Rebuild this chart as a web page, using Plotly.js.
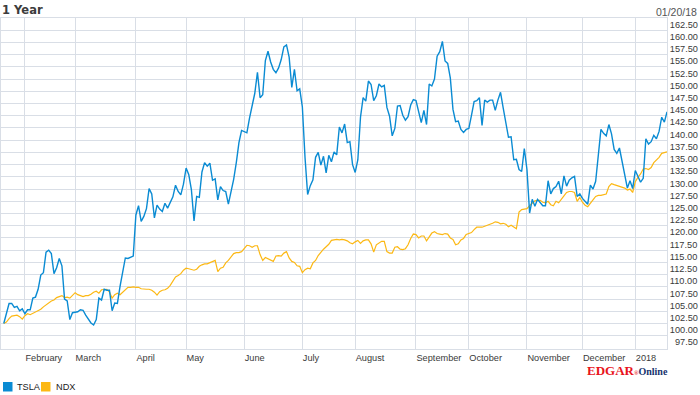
<!DOCTYPE html>
<html>
<head>
<meta charset="utf-8">
<script src="https://cdn.plot.ly/plotly-3.0.1.min.js"></script>
<style>html,body{margin:0;padding:0;background:#fff;}#chart{width:700px;height:395px;}</style>
</head>
<body>
<div id="chart"></div>
<script>
// Trading-day index 0 = 01/20/2017 ... 251 = 01/19/2018 (values rebased to 100)
const tsla = [
100.0,101.8,104.1,104.1,103.3,103.5,102.6,103.0,102.0,102.8,
102.8,105.2,105.4,107.0,109.9,110.4,114.6,115.0,114.3,110.2,
111.4,113.3,111.8,105.0,104.6,100.8,102.2,102.3,102.4,102.8,
102.7,101.7,100.9,100.1,99.7,100.8,105.2,104.8,107.0,106.8,
106.8,102.6,104.2,104.1,107.6,110.4,113.4,113.3,113.6,113.8,
122.2,124.1,120.9,121.9,123.5,127.6,126.5,121.6,124.2,123.4,
122.9,124.6,123.6,124.9,125.9,128.3,127.0,126.3,128.5,131.8,
130.5,127.4,121.0,126.0,125.8,131.0,132.9,132.2,132.8,129.3,
129.6,125.3,128.0,127.2,127.0,124.4,126.9,129.5,132.9,137.0,
139.5,139.2,139.0,142.0,144.4,147.1,151.4,146.2,146.8,153.8,
155.7,153.5,152.0,151.3,152.3,154.0,156.6,157.0,154.5,148.3,
152.0,147.6,148.0,144.3,134.0,126.4,128.2,129.4,134.0,135.0,
132.4,134.2,130.8,134.4,133.1,135.1,134.5,140.2,139.0,140.8,
137.0,137.2,132.5,130.9,133.5,142.2,146.2,145.5,149.6,148.9,
145.6,146.6,149.0,148.4,148.7,144.2,142.4,138.4,139.9,144.5,
144.6,142.6,141.6,142.3,144.7,145.8,145.6,143.2,141.1,143.6,
140.7,149.0,148.6,150.0,154.7,155.6,157.7,153.7,153.2,150.2,
143.8,141.3,141.4,139.7,139.1,139.7,139.9,142.6,145.4,145.6,
146.2,140.5,145.7,145.3,145.7,145.7,143.6,145.7,147.3,144.1,
141.4,138.1,138.2,133.5,133.6,131.5,131.1,135.8,131.5,122.6,
125.4,124.0,125.4,124.7,124.1,124.1,129.2,126.5,127.6,128.0,
129.1,126.5,130.2,128.1,129.3,129.8,130.1,126.0,126.5,125.6,
125.0,124.4,128.3,127.5,129.1,134.8,139.7,138.9,138.4,140.7,
138.8,135.6,134.8,135.9,133.2,130.0,127.7,129.2,127.6,131.3,
130.0,128.9,129.7,137.8,136.7,137.2,138.5,137.8,139.3,142.2,
141.2,143.3
];
const ndx = [
100.0,100.3,101.0,101.5,101.6,101.7,101.4,100.9,101.6,102.0,
101.8,102.1,102.4,102.6,102.9,103.4,103.8,104.3,104.6,104.8,
105.3,105.5,105.7,105.3,105.4,105.2,105.8,106.3,105.9,105.7,
105.5,105.7,105.7,106.0,106.4,106.6,106.2,106.9,106.9,107.0,
106.4,105.2,105.9,106.2,105.9,106.4,106.9,107.4,107.4,107.5,
107.4,107.4,107.1,107.0,107.0,107.0,106.8,106.4,105.8,106.5,
106.8,106.9,107.2,107.8,108.7,109.5,109.8,110.2,110.9,111.3,
111.2,111.0,110.9,111.1,111.7,112.0,112.2,112.2,112.4,112.6,
112.9,110.6,111.3,111.5,112.4,112.9,113.5,114.3,114.5,114.5,
114.7,115.4,116.0,115.9,115.6,115.9,115.9,114.1,112.9,113.5,
113.2,112.9,112.7,113.8,113.9,113.8,114.4,114.7,113.4,112.7,
112.5,111.8,111.7,110.4,111.0,111.3,111.2,112.4,112.9,113.9,
114.6,115.2,115.7,116.2,117.0,117.1,117.2,117.1,117.2,117.1,
116.9,116.5,116.3,116.7,117.0,116.4,116.9,117.1,117.1,116.3,
114.6,116.1,116.4,116.8,116.8,114.7,114.4,114.4,115.6,115.7,
115.2,115.1,115.3,116.1,117.4,118.3,118.2,117.5,117.9,117.9,
116.9,117.7,118.5,118.8,118.4,118.3,118.2,118.4,118.3,117.5,
117.2,116.1,116.3,117.1,117.4,118.2,118.4,118.6,119.2,119.7,
119.7,119.7,119.9,120.1,120.2,120.5,120.8,120.7,120.4,120.5,
120.3,119.8,120.1,119.8,119.4,122.8,123.3,123.4,123.5,124.1,
124.6,125.1,125.2,125.2,124.8,124.7,125.0,124.3,124.1,125.0,
124.7,125.3,126.1,126.8,127.0,127.0,126.8,125.0,125.8,124.8,
124.2,123.9,124.5,125.3,126.0,126.2,126.2,126.4,126.5,128.0,
128.6,128.4,128.2,128.0,127.9,127.7,127.3,127.5,126.8,129.0,
129.9,130.6,131.6,131.7,131.5,131.9,132.9,133.4,134.0,134.8,
135.0,135.1
];
const monthTickIdx = [8, 27, 50, 69, 91, 113, 133, 156, 176, 198, 219, 239];
const monthLabels = ["February","March","April","May","June","July","August","September","October","November","December","2018"];
const yTickVals = [97.5,100,102.5,105,107.5,110,112.5,115,117.5,120,122.5,125,127.5,130,132.5,135,137.5,140,142.5,145,147.5,150,152.5,155,157.5,160,162.5];
const seriesNames = ["TSLA", "NDX"];
const dateLabel = "01/20/18";
const chartTitle = "1 Year";

const xIdx = tsla.map((_, i) => i);
const yTickText = yTickVals.map(v => { const s = v.toFixed(2); return s.length < 6 ? "\u2007" + s : s; });

const BLUE = "#0a8bd3", GOLD = "#fcb814", GRID = "#d9dee6";
const tickFont = {family: "Liberation Sans, Arial, sans-serif", size: 9.2, color: "#3a3a3a"};

const traces = [
  {x: xIdx, y: ndx, type: "scatter", mode: "lines", name: seriesNames[1],
   line: {color: GOLD, width: 1.2}, hoverinfo: "skip"},
  {x: xIdx, y: tsla, type: "scatter", mode: "lines", name: seriesNames[0],
   line: {color: BLUE, width: 1.4}, hoverinfo: "skip"}
];

const pxX = p => (p - 1) / 666;      // page px -> paper x
const pxY = p => (349 - p) / 331;    // page px -> paper y

const layout = {
  width: 700, height: 395,
  margin: {l: 1, r: 33, t: 18, b: 46, pad: 0},
  paper_bgcolor: "#ffffff", plot_bgcolor: "#ffffff",
  showlegend: false, hovermode: false,
  title: {text: "<b>" + chartTitle + "</b>", x: 0.003, xref: "container", xanchor: "left",
          y: 0.974, yref: "container", yanchor: "middle",
          font: {family: "DejaVu Sans, sans-serif", size: 11.5, color: "#3c3c3c"}},
  xaxis: {range: [-1.05, 251.0], tickmode: "array", tickvals: monthTickIdx, ticktext: monthLabels,
          tickangle: 0, automargin: false,
          showgrid: true, gridcolor: GRID, gridwidth: 1, zeroline: false,
          showline: true, linecolor: GRID, linewidth: 1, mirror: true,
          ticks: "", ticklabelposition: "outside right", tickfont: tickFont, fixedrange: true},
  yaxis: {range: [94.78, 162.5], side: "right", tickmode: "array", tickvals: yTickVals, ticktext: yTickText,
          automargin: false,
          showgrid: true, gridcolor: GRID, gridwidth: 1, zeroline: false,
          showline: true, linecolor: GRID, linewidth: 1, mirror: true,
          ticks: "", ticklabelposition: "outside bottom", tickfont: tickFont, fixedrange: true},
  shapes: [
    {type: "rect", xref: "paper", yref: "paper", x0: pxX(3), x1: pxX(12.5), y0: pxY(391.5), y1: pxY(382), fillcolor: BLUE, line: {width: 0}},
    {type: "rect", xref: "paper", yref: "paper", x0: pxX(41), x1: pxX(50.5), y0: pxY(391.5), y1: pxY(382), fillcolor: GOLD, line: {width: 0}}
  ],
  annotations: [
    {xref: "paper", yref: "paper", x: pxX(15), y: pxY(386.8), xanchor: "left", yanchor: "middle", showarrow: false,
     text: seriesNames[0], font: {family: "Liberation Sans, Arial, sans-serif", size: 9.2, color: "#222"}},
    {xref: "paper", yref: "paper", x: pxX(54), y: pxY(386.8), xanchor: "left", yanchor: "middle", showarrow: false,
     text: seriesNames[1], font: {family: "Liberation Sans, Arial, sans-serif", size: 9.2, color: "#222"}},
    {xref: "paper", yref: "paper", x: pxX(698.5), y: pxY(11.5), xanchor: "right", yanchor: "middle", showarrow: false,
     text: dateLabel, font: {family: "Liberation Sans, Arial, sans-serif", size: 10.5, color: "#555"}},
    {xref: "paper", yref: "paper", x: pxX(585), y: pxY(370.5), xanchor: "left", yanchor: "middle", showarrow: false,
     text: '<b><span style="color:#e8141b;font-size:13px">EDGAR</span><span style="color:#e8141b;font-size:6px">®</span><span style="color:#17336e;font-size:10px">Online</span></b>',
     font: {family: "Liberation Serif, serif", size: 12, color: "#e8141b"}}
  ]
};

Plotly.newPlot("chart", traces, layout, {displayModeBar: false, staticPlot: true});
</script>
</body>
</html>
